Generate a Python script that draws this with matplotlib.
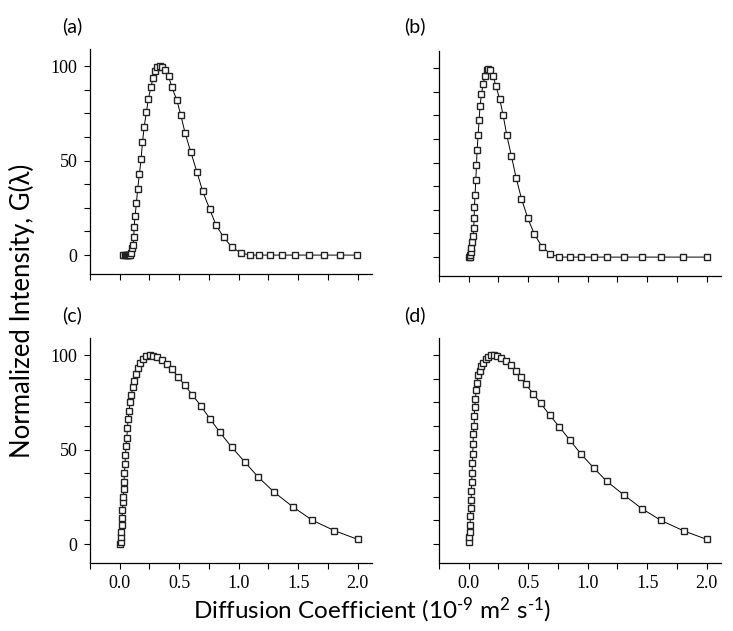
import matplotlib.pyplot as plt
from matplotlib.ticker import MultipleLocator

plt.rcParams["mathtext.fontset"] = "custom"
plt.rcParams["mathtext.rm"] = "Lato"
plt.rcParams["mathtext.it"] = "Lato:italic"

# panel (a)
a_x = [0.03, 0.04, 0.05, 0.06, 0.07, 0.08, 0.09, 0.098, 0.107, 0.112,
       0.118, 0.121, 0.129, 0.140, 0.151, 0.165, 0.180, 0.191, 0.205, 0.224,
       0.241, 0.261, 0.281, 0.300, 0.317, 0.339, 0.356, 0.379, 0.410, 0.438,
       0.480, 0.513, 0.550, 0.597, 0.648, 0.696, 0.755, 0.808, 0.872, 0.940,
       1.015, 1.094, 1.172, 1.262, 1.363, 1.473, 1.593, 1.717, 1.851, 1.997]
a_y = [0, 0, 0, 0, 0, 0, 0, 1, 3.5, 5.3,
       9.7, 15, 20.6, 27.7, 35, 42.9, 51, 59.6, 67.7, 75.6,
       82.7, 88.7, 93.8, 97.5, 99.6, 100, 99.6, 98, 94.7, 88.7,
       82, 74, 64.4, 54.5, 44.1, 33.9, 24.5, 16, 9.5, 4.4,
       1.2, 0, 0, 0, 0, 0, 0, 0, 0, 0]

# panel (b)
b_x = [0.005, 0.008, 0.012, 0.017, 0.022, 0.031, 0.036, 0.042, 0.045, 0.048,
       0.053, 0.059, 0.065, 0.070, 0.079, 0.087, 0.095, 0.107, 0.121, 0.137,
       0.151, 0.165, 0.182, 0.205, 0.227, 0.261, 0.289, 0.320, 0.359, 0.398,
       0.443, 0.496, 0.550, 0.614, 0.684, 0.760, 0.850, 0.940, 1.055, 1.164,
       1.304, 1.453, 1.616, 1.804, 2.0]
b_y = [0, 0, 1, 2.5, 5, 8, 11, 15.5, 20.6, 26.5,
       33, 40.6, 48.7, 56.4, 64.7, 72.5, 79.9, 86.2, 91.7, 96,
       99, 99.6, 99, 95.8, 90.7, 83.4, 75, 64.4, 53.3, 42,
       30.9, 20.6, 12.3, 5.6, 1.8, 0, 0, 0, 0, 0,
       0, 0, 0, 0, 0]

# panel (c)
c_x = [0.005, 0.008, 0.011, 0.014, 0.017, 0.020, 0.022, 0.028, 0.031, 0.034, 0.036,
       0.039, 0.045, 0.048, 0.053, 0.059, 0.065, 0.070, 0.079, 0.087, 0.098,
       0.109, 0.123, 0.137, 0.154, 0.174, 0.196, 0.224, 0.252, 0.281, 0.314,
       0.351, 0.393, 0.438, 0.491, 0.547, 0.609, 0.679, 0.757, 0.842, 0.940,
       1.052, 1.164, 1.299, 1.453, 1.616, 1.804, 2.0]
c_y = [0.3, 1.2, 3.5, 6.5, 10, 14, 18, 22, 25, 29, 33,
       37.5, 42.5, 47, 51.7, 56.3, 61.4, 66.2, 70.6, 75, 79,
       83, 86.5, 89.7, 92.9, 95.6, 97.7, 99.3, 99.8, 99.6, 98.8,
       97.3, 95.4, 92.4, 88.5, 83.9, 79.1, 73.3, 66.4, 59.1, 51.3,
       43.4, 35.4, 27.4, 19.8, 12.7, 7.1, 2.5]

# panel (d)
d_x = [0.006, 0.006, 0.008, 0.011, 0.014, 0.017, 0.020, 0.022, 0.025, 0.028,
       0.031, 0.034, 0.036, 0.039, 0.045, 0.048, 0.050, 0.056, 0.062, 0.070,
       0.081, 0.093, 0.107, 0.123, 0.143, 0.163, 0.188, 0.213, 0.241, 0.275,
       0.311, 0.351, 0.393, 0.435, 0.480, 0.541, 0.606, 0.679, 0.760, 0.847,
       0.940, 1.049, 1.158, 1.304, 1.456, 1.616, 1.806, 2.0]
d_y = [1.2, 3.6, 6.2, 10.1, 14.6, 19, 23.5, 27.9, 32.7, 37.7,
       42.7, 47.5, 52.8, 58.2, 62.6, 67.6, 72.4, 76.9, 81.3, 85,
       89.3, 91.8, 94, 95.9, 97.7, 98.9, 99.8, 100, 99.6, 98.6,
       96.8, 94.7, 91.8, 88.6, 84.5, 79.5, 74.4, 68.3, 62.1, 55.2,
       47.9, 40.4, 33.3, 26, 18.7, 12.5, 7, 2.5]

panel_labels = ["(a)", "(b)", "(c)", "(d)"]
y_ticks = [0, 50, 100]
x_ticks = [0.0, 0.5, 1.0, 1.5, 2.0]

W, H = 733, 631
fig = plt.figure(figsize=(W / 100, H / 100), dpi=100)

# axes boxes in pixels: left, bottom (from top), width, height
boxes = [(90, 274, 282, 225), (439, 276, 282, 225),
         (90, 563, 282, 225), (439, 563, 282, 225)]
series = [(a_x, a_y), (b_x, b_y), (c_x, c_y), (d_x, d_y)]
label_pos = [(72, 26), (415, 26), (72, 315), (415, 315)]

serif = "Liberation Serif"
sans = "Lato"

for i, ((l, b, w, h), (xs, ys)) in enumerate(zip(boxes, series)):
    ax = fig.add_axes([l / W, (H - b) / H, w / W, h / H])
    ax.plot(xs, ys, color="black", lw=0.7, marker="s", ms=5,
            mfc="white", mec="#222222", mew=1.0)
    ax.set_xlim(-0.25, 2.12)
    ax.set_ylim(-10, 109)
    for s in ["top", "right"]:
        ax.spines[s].set_visible(False)
    ax.spines["left"].set_linewidth(0.9)
    ax.spines["bottom"].set_linewidth(0.9)
    ax.set_xticks(x_ticks)
    ax.set_yticks(y_ticks)
    ax.xaxis.set_minor_locator(MultipleLocator(0.25))
    ax.yaxis.set_minor_locator(MultipleLocator(12.5))
    ax.tick_params(which="both", direction="out", length=4, width=0.8,
                   labelsize=13, pad=5)
    for t in ax.get_xticklabels() + ax.get_yticklabels():
        t.set_fontfamily(serif)
    if i < 2:
        ax.tick_params(labelbottom=False)
    if i % 2 == 1:
        ax.tick_params(labelleft=False)
    fig.text(label_pos[i][0] / W, 1 - label_pos[i][1] / H, panel_labels[i],
             fontsize=14, family=sans, ha="center", va="center")

fig.text(22 / W, 1 - 311 / H, "Normalized Intensity, G(λ)", rotation=90,
         fontsize=18.5, family=sans, ha="center", va="center")
fig.text(372 / W, 1 - 610 / H,
         r"Diffusion Coefficient (10$^{\text{-9}}$ m$^{\text{2}}$ s$^{\text{-1}}$)",
         fontsize=17.5, family=sans, ha="center", va="center")

fig.savefig("out.png", dpi=100)
